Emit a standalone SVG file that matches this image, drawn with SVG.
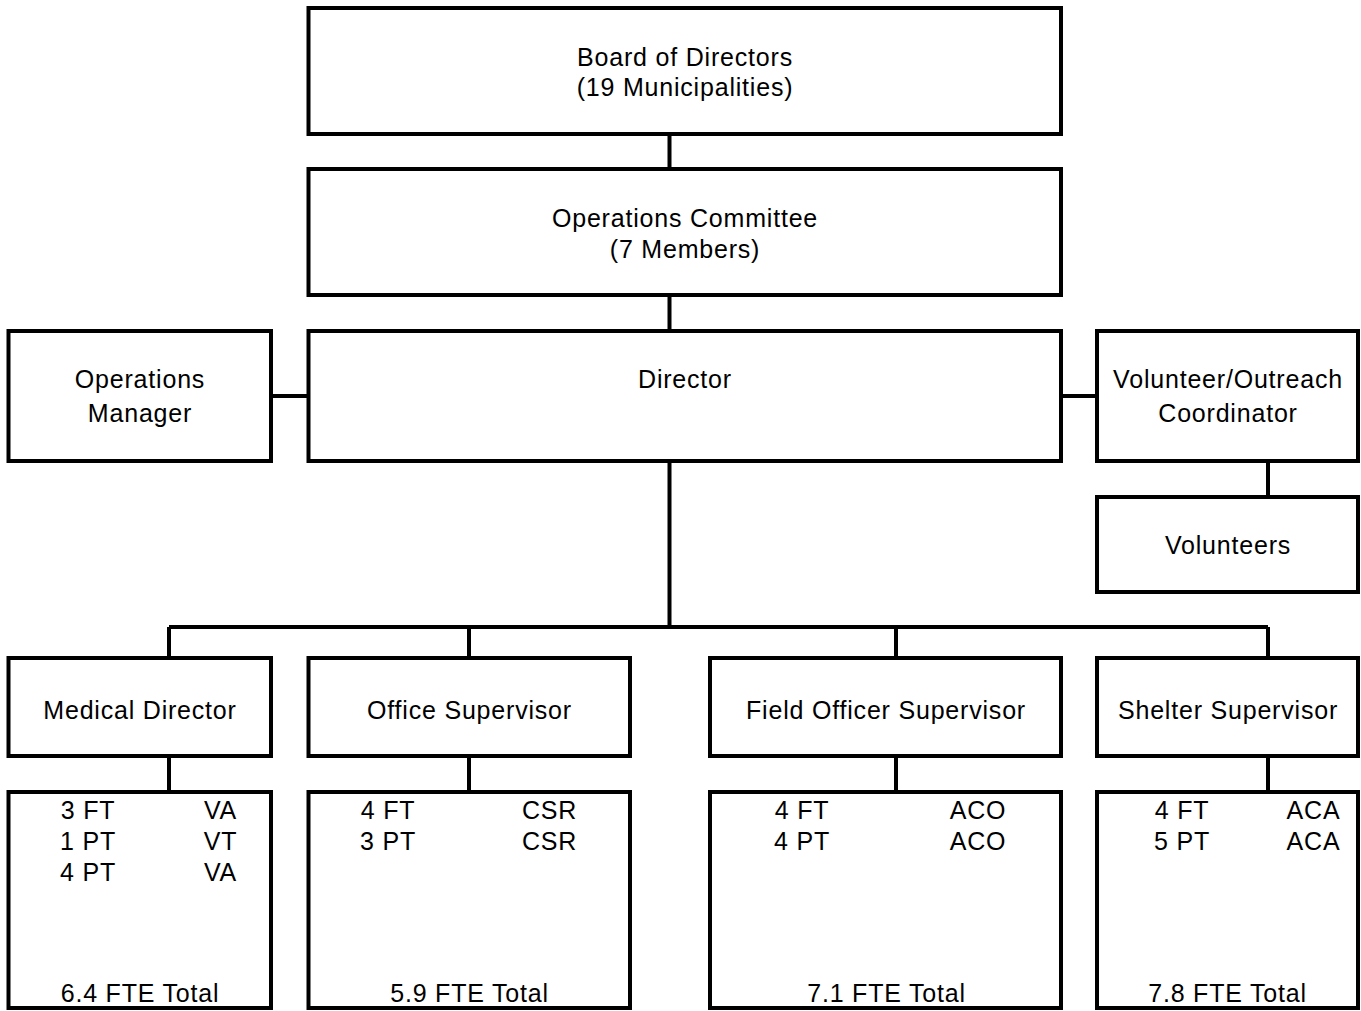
<svg xmlns="http://www.w3.org/2000/svg" width="1361" height="1011" viewBox="0 0 1361 1011">
<style>
.box{fill:#fff;stroke:#000;stroke-width:4}
.ln{fill:none;stroke:#000;stroke-width:4}
text{font-family:"Liberation Sans",Arial,sans-serif;font-size:25px;letter-spacing:0.8px;fill:#000;text-anchor:middle}
</style>
<rect width="1361" height="1011" fill="#fff"/>
<g id="connectors">
<path class="ln" d="M669.5 134V169M669.5 295V331M271 396H308.5M1061 396H1097M1268 461V497M669.5 461V627M169 627H1268M169 627V658M469 627V658M896 627V658M1268 627V658M169 756V792M469 756V792M896 756V792M1268 756V792"/>
</g>
<g id="board"><rect class="box" x="308.5" y="8" width="752.5" height="126"/><text x="685" y="66">Board of Directors</text><text x="685" y="96">(19 Municipalities)</text></g>
<g id="opscommittee"><rect class="box" x="308.5" y="169" width="752.5" height="126"/><text x="685" y="227">Operations Committee</text><text x="685" y="258">(7 Members)</text></g>
<g id="director"><rect class="box" x="308.5" y="331" width="752.5" height="130"/><text x="685" y="388">Director</text></g>
<g id="opsmanager"><rect class="box" x="8.5" y="331" width="262.5" height="130"/><text x="140" y="388">Operations</text><text x="140" y="422">Manager</text></g>
<g id="volcoord"><rect class="box" x="1097" y="331" width="261" height="130"/><text x="1228" y="388">Volunteer/Outreach</text><text x="1228" y="422">Coordinator</text></g>
<g id="volunteers"><rect class="box" x="1097" y="497" width="261" height="95"/><text x="1228" y="554">Volunteers</text></g>
<g id="medical"><rect class="box" x="8.5" y="658" width="262.5" height="98"/><text x="140" y="719">Medical Director</text></g>
<g id="office"><rect class="box" x="308.5" y="658" width="321.5" height="98"/><text x="469.5" y="719">Office Supervisor</text></g>
<g id="field"><rect class="box" x="710" y="658" width="351" height="98"/><text x="886" y="719">Field Officer Supervisor</text></g>
<g id="shelter"><rect class="box" x="1097" y="658" width="261" height="98"/><text x="1228" y="719">Shelter Supervisor</text></g>
<g id="medical-staff"><rect class="box" x="8.5" y="792" width="262.5" height="216"/>
<text x="88" y="819">3 FT</text><text x="220.5" y="819">VA</text>
<text x="88" y="850">1 PT</text><text x="220.5" y="850">VT</text>
<text x="88" y="881">4 PT</text><text x="220.5" y="881">VA</text>
<text x="140" y="1002">6.4 FTE Total</text></g>
<g id="office-staff"><rect class="box" x="308.5" y="792" width="321.5" height="216"/>
<text x="388" y="819">4 FT</text><text x="549.5" y="819">CSR</text>
<text x="388" y="850">3 PT</text><text x="549.5" y="850">CSR</text>
<text x="469.5" y="1002">5.9 FTE Total</text></g>
<g id="field-staff"><rect class="box" x="710" y="792" width="351" height="216"/>
<text x="802" y="819">4 FT</text><text x="978" y="819">ACO</text>
<text x="802" y="850">4 PT</text><text x="978" y="850">ACO</text>
<text x="886.5" y="1002">7.1 FTE Total</text></g>
<g id="shelter-staff"><rect class="box" x="1097" y="792" width="261" height="216"/>
<text x="1182" y="819">4 FT</text><text x="1313.5" y="819">ACA</text>
<text x="1182" y="850">5 PT</text><text x="1313.5" y="850">ACA</text>
<text x="1227.5" y="1002">7.8 FTE Total</text></g>
</svg>
